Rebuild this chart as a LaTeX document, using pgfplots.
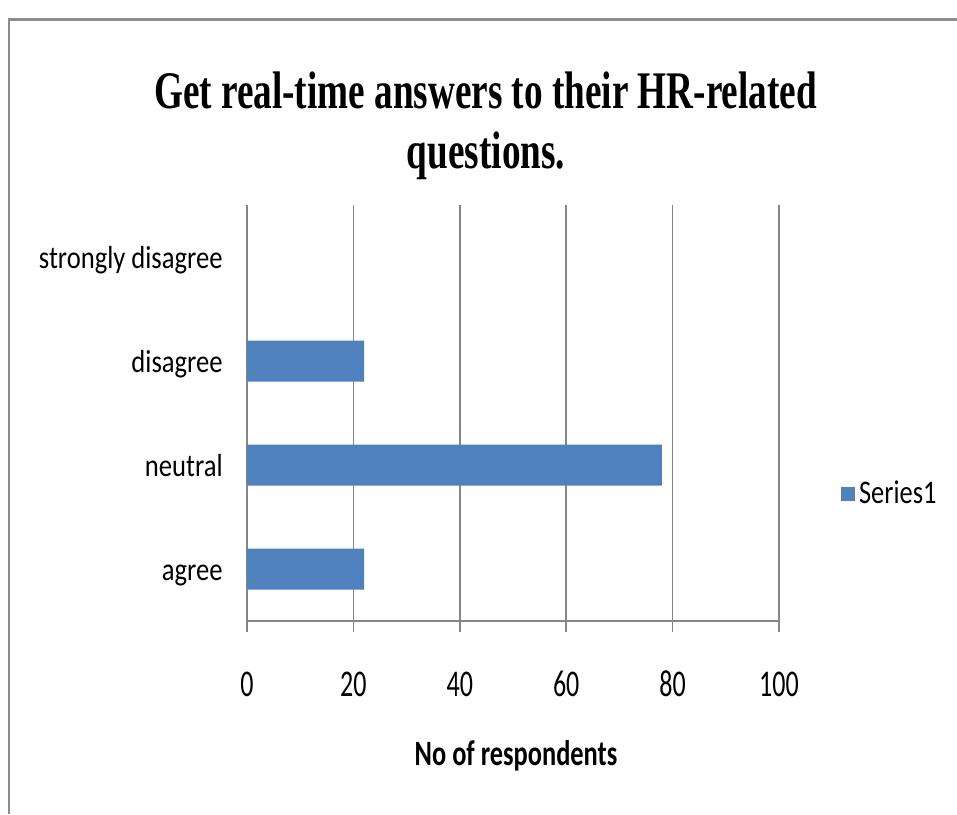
\documentclass[border=0pt]{standalone}
\usepackage{pgfplots}
\pgfplotsset{compat=1.18}
\usepackage{fontspec}
\setmainfont{Carlito}
\newfontfamily\titlefont{Liberation Serif}
\definecolor{barblue}{HTML}{4F81BD}
\definecolor{gridgray}{HTML}{868686}
\definecolor{framegray}{HTML}{8C8C8C}
\newcommand\vs[2]{\scalebox{1}[#1]{#2}}
\begin{document}
\begin{tikzpicture}
\begin{scope}[x=0.5pt,y=-0.5pt]
\useasboundingbox (0,0) rectangle (957,814);
\coordinate (axorig) at (247,621);
% frame
\draw[framegray, line width=1.75pt] (9,19.5) -- (957,19.5);
\draw[framegray, line width=1pt] (9,18) -- (9,814);
% title
\node[anchor=base, inner sep=0, font=\titlefont\bfseries\fontsize{18.6}{20}\selectfont] at (485.5,108) {\vs{1.42}{Get real-time answers to their HR-related}};
\node[anchor=base, inner sep=0, font=\titlefont\bfseries\fontsize{18.6}{20}\selectfont] at (486,168) {\vs{1.42}{questions.}};
\end{scope}
\begin{axis}[
  at={(axorig)}, anchor=south west,
  scale only axis, width=266pt, height=208pt,
  xbar, bar width=20.5pt,
  xmin=0, xmax=100, ymin=-0.5, ymax=3.5,
  xtick={0,20,40,60,80,100},
  ytick={0,1,2,3},
  yticklabels={{\vs{1.2}{agree}},{\vs{1.2}{neutral}},{\vs{1.2}{disagree}},{\vs{1.2}{strongly disagree}}},
  xticklabel={\vs{1.45}{\pgfmathprintnumber{\tick}}},
  /pgf/number format/assume math mode=true,
  axis x line*=bottom, axis y line*=left,
  x axis line style={-, draw=gridgray, line width=1.25pt},
  y axis line style={draw=none},
  xmajorgrids, major grid style={draw=gridgray, line width=0.75pt},
  tick align=outside,
  xtick style={draw=gridgray, line width=0.75pt},
  major tick length=5.5pt,
  ytick style={draw=none},
  xticklabel style={font=\fontsize{13}{15}\selectfont, anchor=base, inner sep=0pt, yshift=-32pt},
  yticklabel style={font=\fontsize{13.3}{15}\selectfont, anchor=base east, inner sep=0pt, xshift=-6.5pt, yshift=-5.8pt},
  xlabel={\vs{1.35}{No of respondents}},
  xlabel style={font=\bfseries\fontsize{13.2}{15}\selectfont, at={(axis description cs:0.5,0)}, anchor=base, inner sep=0pt, yshift=-72pt, xshift=1.5pt},
  legend style={at={(rel axis cs:1.116,0.305)}, anchor=west, draw=none, fill=none, font=\fontsize{13.2}{15}\selectfont, inner sep=0pt},
  legend image code/.code={\fill[barblue] (0pt,-3.5pt) rectangle (7pt,3.5pt);},
  clip=false,
]
\addplot[fill=barblue, draw=none] coordinates {(22,0) (78,1) (22,2) (0,3)};
\addlegendentry{\vs{1.25}{Series1}}
\end{axis}
\end{tikzpicture}
\end{document}
